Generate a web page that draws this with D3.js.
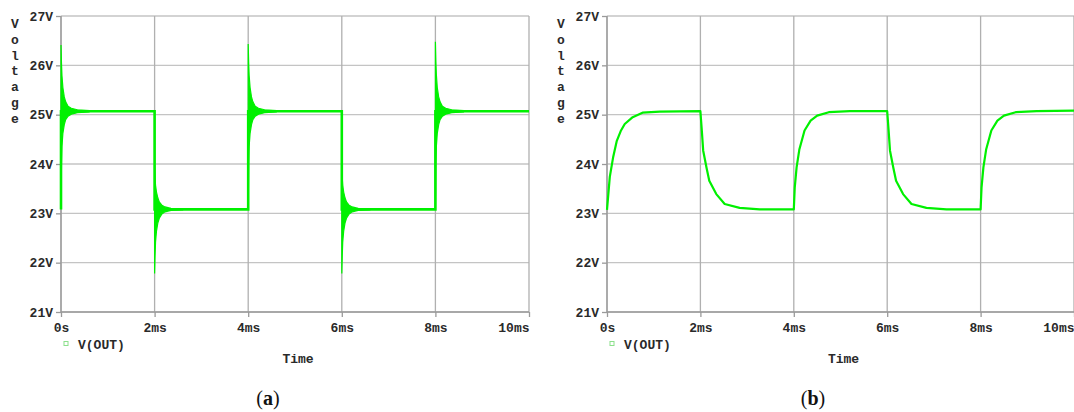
<!DOCTYPE html>
<html><head><meta charset="utf-8">
<script src="https://cdn.jsdelivr.net/npm/d3@7"></script>
<style>body{margin:0;background:#fff}svg{display:block}</style>
</head><body>
<svg id="c" width="1074" height="412"></svg>
<script>
// ---- data ----
const yTicks = [21, 22, 23, 24, 25, 26, 27];
const yTickLabels = ["21V", "22V", "23V", "24V", "25V", "26V", "27V"];
const xTicks = [0, 2, 4, 6, 8, 10];
const xTickLabels = ["0s", "2ms", "4ms", "6ms", "8ms", "10ms"];
const seriesName = "V(OUT)";
const yTitle = "Voltage";
const xTitle = "Time";
const captions = ["a", "b"];

// (a) switching waveform: level steps (time ms, volts)
const stepA = [[0, 23.08], [0, 25.07], [2, 25.07], [2, 23.08], [4, 23.08], [4, 25.07],
  [6, 25.07], [6, 23.08], [8, 23.08], [8, 25.07], [10, 25.07]];
// ringing band after each edge: [time ms, upper V, lower V]
const ringEdge0 = [[0, 26.41, 23.1], [0.01, 26.05, 24.0], [0.02, 25.8, 24.35], [0.04, 25.55, 24.62], [0.07, 25.36, 24.8], [0.1, 25.26, 24.9], [0.15, 25.17, 24.97], [0.22, 25.13, 25.01], [0.35, 25.1, 25.04], [0.6, 25.085, 25.055]];
const ringEdge2 = [[2, 23.95, 21.78], [2.01, 23.72, 22.15], [2.02, 23.57, 22.42], [2.04, 23.43, 22.64], [2.07, 23.31, 22.81], [2.1, 23.23, 22.9], [2.15, 23.17, 22.98], [2.22, 23.13, 23.03], [2.35, 23.1, 23.06], [2.6, 23.09, 23.07]];
const ringEdge4 = [[4, 26.43, 23.1], [4.01, 26.05, 24.0], [4.02, 25.8, 24.35], [4.04, 25.55, 24.62], [4.07, 25.36, 24.8], [4.1, 25.26, 24.9], [4.15, 25.17, 24.97], [4.22, 25.13, 25.01], [4.35, 25.1, 25.04], [4.6, 25.085, 25.055]];
const ringEdge6 = [[6, 23.95, 21.78], [6.01, 23.72, 22.15], [6.02, 23.57, 22.42], [6.04, 23.43, 22.64], [6.07, 23.31, 22.81], [6.1, 23.23, 22.9], [6.15, 23.17, 22.98], [6.22, 23.13, 23.03], [6.35, 23.1, 23.06], [6.6, 23.09, 23.07]];
const ringEdge8 = [[8, 26.48, 23.1], [8.01, 26.08, 24.0], [8.02, 25.82, 24.35], [8.04, 25.55, 24.62], [8.07, 25.36, 24.8], [8.1, 25.26, 24.9], [8.15, 25.17, 24.97], [8.22, 25.13, 25.01], [8.35, 25.1, 25.04], [8.6, 25.085, 25.055]];

// (b) smoothed waveform (time ms, volts)
const curveB = [
  [0, 23.07], [0.06, 23.74], [0.13, 24.13], [0.21, 24.47], [0.3, 24.68], [0.38, 24.81], [0.55, 24.95], [0.76, 25.04], [1.13, 25.06], [2.0, 25.07],
  [2.03, 24.68], [2.06, 24.27], [2.13, 23.93], [2.19, 23.66], [2.34, 23.39], [2.52, 23.19], [2.84, 23.11], [3.27, 23.08], [4.0, 23.08],
  [4.02, 23.52], [4.06, 23.93], [4.12, 24.3], [4.23, 24.68], [4.36, 24.88], [4.5, 24.98], [4.75, 25.05], [5.2, 25.07], [6.0, 25.07],
  [6.03, 24.68], [6.06, 24.27], [6.13, 23.93], [6.19, 23.66], [6.34, 23.39], [6.52, 23.19], [6.84, 23.11], [7.27, 23.08], [8.0, 23.08],
  [8.02, 23.52], [8.06, 23.93], [8.12, 24.3], [8.23, 24.68], [8.36, 24.88], [8.5, 24.98], [8.75, 25.05], [9.2, 25.07], [10.0, 25.08]
];

// ---- drawing ----
const svg = d3.select("#c");
const green = "#00f000";
const textCol = "#2a2a2a";
const mono = "'Liberation Mono','DejaVu Sans Mono',monospace";

function panel(opt) {
  const x = d3.scaleLinear().domain([0, 10]).range([opt.x0, opt.x1]);
  const y = d3.scaleLinear().domain([21, 27]).range([opt.y1, opt.y0]);
  const g = svg.append("g");

  // grid
  g.append("g").selectAll("line").data(yTicks).join("line")
    .attr("x1", x(0)).attr("x2", x(10)).attr("y1", d => y(d)).attr("y2", d => y(d))
    .attr("stroke", "#c4c4c4").attr("stroke-width", 1.3);
  g.append("g").selectAll("line").data(xTicks).join("line")
    .attr("y1", y(21)).attr("y2", y(27)).attr("x1", d => x(d)).attr("x2", d => x(d))
    .attr("stroke", "#b0b0b0").attr("stroke-width", 1.3);

  // axes with d3 axis generators
  const ya = g.append("g").attr("transform", `translate(${x(0)},0)`)
    .call(d3.axisLeft(y).tickValues(yTicks).tickFormat((d, i) => yTickLabels[i]).tickSize(5).tickPadding(3));
  const xa = g.append("g").attr("transform", `translate(0,${y(21)})`)
    .call(d3.axisBottom(x).tickValues(xTicks).tickFormat((d, i) => xTickLabels[i]).tickSize(5).tickPadding(6));
  [ya, xa].forEach(a => {
    a.select(".domain").attr("stroke", "#9a9a9a").attr("stroke-width", 1.3);
    a.selectAll(".tick line").attr("stroke", "#9a9a9a").attr("stroke-width", 1.3);
    a.selectAll("text").attr("fill", textCol).attr("font-family", mono)
      .attr("font-size", 13).attr("font-weight", "bold");
  });
  xa.selectAll(".tick text").filter(d => d === 10).attr("text-anchor", "end").attr("dx", 0);
  xa.select(".domain").attr("d", `M${x(0)},0H${x(10)}`);
  ya.select(".domain").attr("d", `M0,${y(21)}V${y(27)}`);

  // y title, stacked letters
  g.append("g").selectAll("text").data(yTitle.split("")).join("text")
    .attr("x", opt.x0 - 46).attr("y", (d, i) => 28 + i * 15.8)
    .attr("text-anchor", "middle").attr("font-family", mono).attr("font-size", 13)
    .attr("font-weight", "bold").attr("fill", textCol).text(d => d);

  // x title
  g.append("text").attr("x", (opt.x0 + opt.x1) / 2 + 3).attr("y", 363)
    .attr("text-anchor", "middle").attr("font-family", mono).attr("font-size", 13)
    .attr("font-weight", "bold").attr("fill", textCol).text(xTitle);

  // legend
  g.append("rect").attr("x", opt.x0 + 3).attr("y", 341.5).attr("width", 4).attr("height", 4)
    .attr("fill", "none").attr("stroke", "#8be08b").attr("stroke-width", 1);
  g.append("text").attr("x", opt.x0 + 17).attr("y", 348.5)
    .attr("font-family", mono).attr("font-size", 13).attr("font-weight", "bold")
    .attr("fill", textCol).text(seriesName);

  // caption
  const cap = g.append("text").attr("x", opt.capX).attr("y", 405).attr("text-anchor", "middle")
    .attr("font-family", "'Liberation Serif','DejaVu Serif',serif").attr("font-size", 20).attr("fill", "#111");
  cap.append("tspan").text("(");
  cap.append("tspan").attr("font-weight", "bold").text(opt.cap);
  cap.append("tspan").text(")");

  return { g, x, y };
}

// panel (a)
const A = panel({ x0: 61, x1: 529, y0: 16, y1: 312, capX: 268, cap: captions[0] });
const bandArea = d3.area().x(d => A.x(d[0])).y0(d => A.y(d[2])).y1(d => A.y(d[1]));
[ringEdge0, ringEdge2, ringEdge4, ringEdge6, ringEdge8].forEach(r => {
  A.g.append("path").datum(r).attr("d", bandArea).attr("fill", green)
    .attr("stroke", green).attr("stroke-width", 1.2);
});
A.g.append("path").datum(stepA)
  .attr("d", d3.line().x(d => A.x(d[0])).y(d => A.y(d[1])))
  .attr("fill", "none").attr("stroke", green).attr("stroke-width", 2.6);

// panel (b)
const B = panel({ x0: 607, x1: 1074, y0: 16, y1: 312, capX: 813, cap: captions[1] });
B.g.append("path").datum(curveB)
  .attr("d", d3.line().x(d => B.x(d[0])).y(d => B.y(d[1])))
  .attr("fill", "none").attr("stroke", green).attr("stroke-width", 2.2).attr("stroke-linejoin", "round");
</script>
</body></html>
